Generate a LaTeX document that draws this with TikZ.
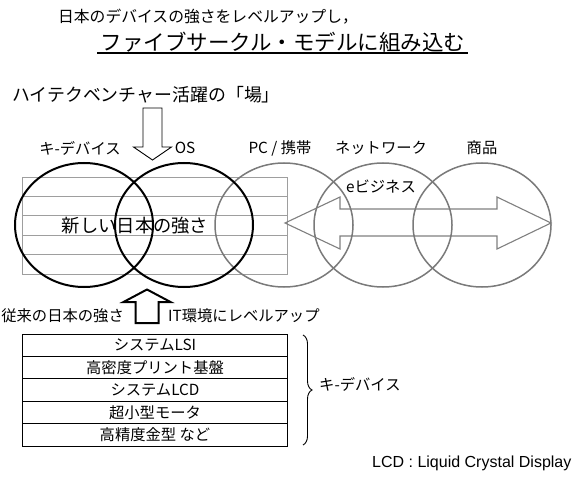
\documentclass[tikz,border=0pt]{standalone}
\usepackage{fontspec}
\setmainfont{Noto Sans CJK JP}
\newfontfamily\latinfont{Liberation Sans}
\usetikzlibrary{decorations.pathreplacing}
\begin{document}
\begin{tikzpicture}[x=1bp,y=-1bp,
  txt/.style={inner sep=0pt, font=\fontsize{15.3bp}{18bp}\selectfont},
  blackring/.style={draw=black, line width=2bp},
  grayring/.style={draw=black!52, line width=1.5bp},
  stripe/.style={draw=black!38, line width=0.9bp},
  cell/.style={draw=black, line width=0.9bp},
  hollowarrow/.style={draw=black, line width=0.9bp, line join=miter},
  boldarrow/.style={draw=black, line width=2bp, line join=miter},
  grayarrow/.style={draw=black!50, line width=1.1bp, line join=miter}]
\fill[white] (0,0) rectangle (584,479);
\useasboundingbox (0,0) rectangle (584,479);

% titles
\node[inner sep=0pt, font=\fontsize{15.8bp}{18bp}\selectfont] (t1) at (208,17) {日本のデバイスの強さをレベルアップし，};
\node[inner sep=0pt, font=\fontsize{21.5bp}{24bp}\selectfont] (t2) at (283,42) {ファイブサークル・モデルに組み込む};
\coordinate (ulA) at (97,53);
\coordinate (ulB) at (468,53);
\draw[line width=1.2bp] (ulA) -- (ulB);

\node[inner sep=0pt, anchor=west, font=\fontsize{17.9bp}{20bp}\selectfont] (ba) at (12,95) {ハイテクベンチャー活躍の「場」};

% striped rectangle
\draw[stripe] (22,177) rectangle (287,274);
\foreach \yy in {196.4,215.8,235.2,254.6} {\draw[stripe] (22,\yy) -- (287,\yy);}

% gray double arrow
\draw[grayarrow] (285,223) -- (340,197) -- (340,209) -- (497,209) -- (497,197) -- (551,223) -- (497,249) -- (497,236) -- (340,236) -- (340,249) -- cycle;

% centre text
\node[inner sep=0pt, font=\fontsize{18.3bp}{21bp}\selectfont] (ns) at (135,226) {新しい日本の強さ};

% circles
\draw[grayring] (284,225) ellipse [x radius=69bp, y radius=62bp];
\draw[grayring] (383,225) ellipse [x radius=69bp, y radius=62bp];
\draw[grayring] (482,225) ellipse [x radius=69bp, y radius=62bp];
\draw[blackring] (84,225) ellipse [x radius=69bp, y radius=62bp];
\draw[blackring] (184,225) ellipse [x radius=69bp, y radius=62bp];

% labels above circles
\node[txt] (kd) at (80,148) {キ-デバイス};
\node[txt] (os) at (185,148) {OS};
\node[txt] (pc) at (280,148) {PC / 携帯};
\node[txt] (nw) at (381,148) {ネットワーク};
\node[txt] (sh) at (482,148) {商品};
\node[txt] (eb) at (381,187) {eビジネス};

% down arrow
\draw[hollowarrow] (143,108) -- (162,108) -- (162,147) -- (171.5,147) -- (152.5,160) -- (133.5,147) -- (143,147) -- cycle;

% up arrow
\draw[boldarrow] (135.5,323) -- (158.5,323) -- (158.5,302) -- (170.5,302) -- (147,289.5) -- (123.5,302) -- (135.5,302) -- cycle;

\node[txt, anchor=east] (jt) at (124,316) {従来の日本の強さ};
\node[txt, anchor=west] (it) at (168,316) {IT環境にレベルアップ};

% table
\foreach \i/\s in {0/システムLSI,1/高密度プリント基盤,2/システムLCD,3/超小型モータ,4/高精度金型 など} {
  \draw[cell] (22,334+\i*22.4) rectangle (287,334+\i*22.4+22.4);
  \node[txt] (row\i) at (155,334+\i*22.4+11.2) {\s};
}

% brace
\coordinate (brA) at (303,335);
\coordinate (brB) at (303,445);
\draw[line width=0.9bp, decorate, decoration={brace, amplitude=9bp}] (brA) -- (brB);
\node[txt, anchor=west] (kd2) at (319,384) {キ-デバイス};

\node[inner sep=0pt, anchor=west, font=\latinfont\fontsize{16bp}{18bp}\selectfont] (lcd) at (372,463) {LCD : Liquid Crystal Display};
\end{tikzpicture}
\end{document}
